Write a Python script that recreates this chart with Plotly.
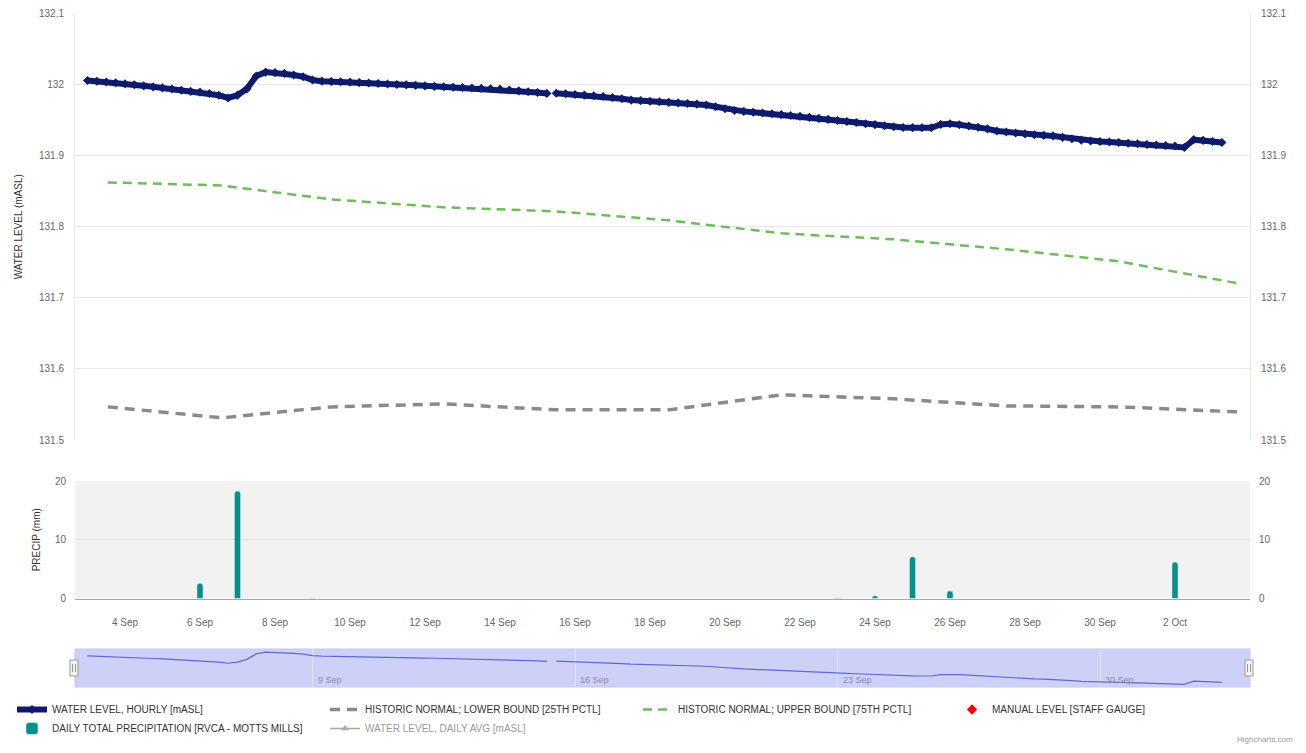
import pandas as pd
import plotly.graph_objects as go

# ---------------- DATA ----------------
# Water level, read every 6 h from the picture (starting 3 Sep 00:00)
wl_start = "2018-09-03 00:00"
wl_values = [
    132.0057, 132.0047, 132.0036, 132.0026,  # 3 Sep
    132.0010, 131.9998, 131.9982, 131.9968,  # 4 Sep
    131.9953, 131.9937, 131.9920, 131.9905,  # 5 Sep
    131.9894, 131.9875, 131.9850, 131.9812,  # 6 Sep
    131.9851, 131.9940, 132.0120, 132.0175,  # 7 Sep
    132.0168, 132.0158, 132.0135, 132.0110,  # 8 Sep
    132.0065, 132.0048, 132.0044, 132.0040,  # 9 Sep
    132.0035, 132.0028, 132.0022, 132.0016,  # 10 Sep
    132.0009, 132.0002, 131.9996, 131.9989,  # 11 Sep
    131.9982, 131.9975, 131.9969, 131.9963,  # 12 Sep
    131.9958, 131.9952, 131.9946, 131.9941,  # 13 Sep
    131.9936, 131.9924, 131.9912, 131.9900,  # 14 Sep
    131.9888, 131.9876, 131.9879, 131.9870,  # 15 Sep
    131.9860, 131.9851, 131.9842, 131.9833,  # 16 Sep
    131.9816, 131.9800, 131.9782, 131.9775,  # 17 Sep
    131.9766, 131.9758, 131.9750, 131.9742,  # 18 Sep
    131.9733, 131.9725, 131.9712, 131.9688,  # 19 Sep
    131.9661, 131.9636, 131.9623, 131.9611,  # 20 Sep
    131.9600, 131.9590, 131.9578, 131.9566,  # 21 Sep
    131.9553, 131.9539, 131.9524, 131.9510,  # 22 Sep
    131.9495, 131.9480, 131.9466, 131.9450,  # 23 Sep
    131.9436, 131.9421, 131.9407, 131.9396,  # 24 Sep
    131.9394, 131.9392, 131.9392, 131.9440,  # 25 Sep
    131.9448, 131.9434, 131.9418, 131.9400,  # 26 Sep
    131.9377, 131.9348, 131.9332, 131.9318,  # 27 Sep
    131.9306, 131.9295, 131.9286, 131.9278,  # 28 Sep
    131.9258, 131.9238, 131.9218, 131.9206,  # 29 Sep
    131.9199, 131.9192, 131.9185, 131.9175,  # 30 Sep
    131.9168, 131.9158, 131.9150, 131.9142,  # 1 Oct
    131.9135, 131.9115, 131.9225, 131.9215,  # 2 Oct
    131.9200, 131.9185,                      # 3 Oct
]
wl_gap_time = "2018-09-15 09:00"   # missing readings

hist_dates = ["2018-09-03 13:00", "2018-09-06 14:00", "2018-09-09 12:00",
              "2018-09-12 12:00", "2018-09-15 12:00", "2018-09-18 12:00",
              "2018-09-21 12:00", "2018-09-24 12:00", "2018-09-27 12:00",
              "2018-09-30 12:00", "2018-10-03 16:00"]
hist_lower = [131.5466, 131.5312, 131.5466, 131.5508, 131.5424, 131.5424,
              131.5635, 131.5579, 131.5480, 131.5466, 131.5396]
hist_upper = [131.8624, 131.8580, 131.8385, 131.8273, 131.8216, 131.8090,
              131.7907, 131.7823, 131.7683, 131.7514, 131.7205]

# series with no visible points in the reference
manual_dates = [None]
manual_levels = [None]
daily_avg_dates = [None]
daily_avg_levels = [None]

precip_dates = ["2018-09-06", "2018-09-07", "2018-09-09", "2018-09-23",
                "2018-09-24", "2018-09-25", "2018-09-26", "2018-10-02"]
precip_mm = [2.6, 18.3, 0.1, 0.1, 0.45, 7.1, 1.3, 6.2]

x_tick_dates = ["2018-09-04", "2018-09-06", "2018-09-08", "2018-09-10",
                "2018-09-12", "2018-09-14", "2018-09-16", "2018-09-18",
                "2018-09-20", "2018-09-22", "2018-09-24", "2018-09-26",
                "2018-09-28", "2018-09-30", "2018-10-02"]
nav_tick_dates = ["2018-09-09", "2018-09-16", "2018-09-23", "2018-09-30"]
nav_tick_labels = ["9 Sep", "16 Sep", "23 Sep", "30 Sep"]

x_range = ["2018-09-02 16:00", "2018-10-04 00:00"]

names = {
    "wl": "WATER LEVEL, HOURLY [mASL]",
    "low": "HISTORIC NORMAL; LOWER BOUND [25TH PCTL]",
    "up": "HISTORIC NORMAL; UPPER BOUND [75TH PCTL]",
    "man": "MANUAL LEVEL [STAFF GAUGE]",
    "pr": "DAILY TOTAL PRECIPITATION [RVCA - MOTTS MILLS]",
    "avg": "WATER LEVEL, DAILY AVG [mASL]",
}

# ---------------- BUILD ----------------
wl_times = list(pd.date_range(wl_start, periods=len(wl_values), freq="6h"))
wl_x, wl_y = [], []
gap_t = pd.Timestamp(wl_gap_time)
gap_done = False
for t, v in zip(wl_times, wl_values):
    if not gap_done and t > gap_t:
        wl_x.append(gap_t)
        wl_y.append(None)
        gap_done = True
    wl_x.append(t)
    wl_y.append(v)

# page has an 8px body margin: figure pixel = page pixel - 8
OFF = 8
W, H = 1306 - 2 * OFF, 753 - 2 * OFF
ML = 75 - OFF
MR = W - (1250 - OFF)
PW = W - ML - MR


def py(page_px):  # page pixel row -> paper y
    return 1 - (page_px - OFF) / H


def pxx(page_px):  # page pixel column -> paper x
    return (page_px - OFF - ML) / PW


FONT = "Liberation Sans, Arial, Helvetica, sans-serif"
NAVY = "#0e1a6a"
GREEN = "#6dbd5c"
GRAY = "#8a8a8a"
TEAL = "#05918a"
LAV = "#cdd1f8"

fig = go.Figure()

fig.add_trace(go.Scatter(
    x=wl_x, y=wl_y, name=names["wl"], mode="lines+markers",
    line=dict(color=NAVY, width=6), marker=dict(symbol="diamond", size=7, color=NAVY),
    connectgaps=False, xaxis="x", yaxis="y", legend="legend"))
fig.add_trace(go.Bar(
    x=precip_dates, y=precip_mm, name=names["pr"], marker=dict(color=TEAL, cornerradius=3),
    width=14e6, xaxis="x2", yaxis="y2", legend="legend"))

fig.add_trace(go.Scatter(
    x=hist_dates, y=hist_lower, name=names["low"], mode="lines",
    line=dict(color=GRAY, width=3.5, dash="10px,7px"), xaxis="x", yaxis="y",
    legend="legend2"))
fig.add_trace(go.Scatter(
    x=daily_avg_dates, y=daily_avg_levels, name=names["avg"], mode="lines+markers",
    line=dict(color="#555555", width=1.5), marker=dict(symbol="triangle-up", size=7, color="#555555"),
    visible="legendonly", xaxis="x", yaxis="y", legend="legend2"))

fig.add_trace(go.Scatter(
    x=hist_dates, y=hist_upper, name=names["up"], mode="lines",
    line=dict(color=GREEN, width=2.5, dash="9px,6px"), xaxis="x", yaxis="y",
    legend="legend3"))

fig.add_trace(go.Scatter(
    x=manual_dates, y=manual_levels, name=names["man"], mode="markers",
    marker=dict(symbol="diamond", size=8, color="#ff0000"), xaxis="x", yaxis="y",
    showlegend=True, legend="legend4"))

# navigator
fig.add_trace(go.Scatter(
    x=wl_x, y=wl_y, mode="lines", line=dict(color="#5f69d2", width=1.2),
    connectgaps=False, showlegend=False, xaxis="x3", yaxis="y3", hoverinfo="skip"))

# helpers for right-hand duplicate axes
fig.add_trace(go.Scatter(x=[None], y=[None], showlegend=False, xaxis="x", yaxis="y4"))
fig.add_trace(go.Scatter(x=[None], y=[None], showlegend=False, xaxis="x2", yaxis="y5"))

tickfont = dict(family=FONT, size=10, color="#666666")
titlefont = dict(family=FONT, size=10, color="#333333")

main_dom = [py(440), py(13.5)]
pr_dom = [py(598.5), py(481)]
nav_dom = [py(687), py(649)]

common_x = dict(range=x_range, type="date", domain=[0, 1], fixedrange=True, automargin=False)

leg_common = dict(orientation="v", yanchor="top", xanchor="left",
                  bgcolor="rgba(0,0,0,0)", font=dict(family=FONT, size=10, color="#333333"),
                  tracegroupgap=0, itemwidth=30, traceorder="normal")

LEG_Y = py(695)
fig.update_layout(
    width=W, height=H,
    margin=dict(l=ML, r=MR, t=0, b=0, autoexpand=False),
    paper_bgcolor="white", plot_bgcolor="white",
    font=dict(family=FONT),
    showlegend=True,
    barmode="overlay",
    legend=dict(x=pxx(12), y=LEG_Y, **leg_common),
    legend2=dict(x=pxx(325), y=LEG_Y, **leg_common),
    legend3=dict(x=pxx(638), y=LEG_Y, **leg_common),
    legend4=dict(x=pxx(952), y=LEG_Y, **leg_common),
    xaxis=dict(anchor="y", showticklabels=False, showgrid=False, zeroline=False, **common_x),
    xaxis2=dict(anchor="y2", showgrid=False, zeroline=False, tickvals=x_tick_dates,
                tickformat="%-d %b", tickfont=tickfont, ticks="outside", ticklen=0,
                ticklabelstandoff=14, showline=True, linecolor="#a8a8a8", linewidth=1,
                **common_x),
    xaxis3=dict(anchor="y3", showticklabels=False, showgrid=True, gridcolor="#e3e5f6",
                tickvals=nav_tick_dates, zeroline=False, **common_x),
    yaxis=dict(domain=main_dom, range=[131.5, 132.1], dtick=0.1, tick0=131.5,
               gridcolor="#e8e8e8", zeroline=False, showline=True, linecolor="#e8e8e8",
               tickfont=tickfont, ticklabelstandoff=8, automargin=False,
               title=dict(text="WATER LEVEL (mASL)", font=titlefont, standoff=14),
               fixedrange=True),
    yaxis4=dict(overlaying="y", side="right", anchor="x", range=[131.5, 132.1], dtick=0.1,
                tick0=131.5, showgrid=False, zeroline=False, showline=True,
                linecolor="#e8e8e8", tickfont=tickfont, ticklabelstandoff=8,
                automargin=False, fixedrange=True),
    yaxis2=dict(domain=pr_dom, range=[0, 20], dtick=10, gridcolor="#e2e2e2",
                zeroline=False, tickfont=tickfont, ticklabelstandoff=8, automargin=False,
                title=dict(text="PRECIP (mm)", font=titlefont, standoff=12),
                fixedrange=True),
    yaxis5=dict(overlaying="y2", side="right", anchor="x2", range=[0, 20], dtick=10,
                showgrid=False, zeroline=False, tickfont=tickfont, ticklabelstandoff=8,
                automargin=False, fixedrange=True),
    yaxis3=dict(domain=nav_dom, anchor="x3", range=[131.903, 132.028], showticklabels=False,
                showgrid=False, zeroline=False, automargin=False, fixedrange=True),
)

shapes = [
    # precipitation panel background
    dict(type="rect", xref="paper", yref="paper", x0=0, x1=1, y0=pr_dom[0], y1=pr_dom[1],
         fillcolor="#f2f2f2", line=dict(width=0), layer="below"),
    # navigator mask
    dict(type="rect", xref="paper", yref="paper", x0=0, x1=1, y0=nav_dom[0], y1=nav_dom[1],
         fillcolor=LAV, line=dict(width=1, color="#c4c8ec"), layer="below"),
]
# navigator handles
for hx in (74, 1249):
    shapes.append(dict(type="rect", xref="paper", yref="paper",
                       x0=pxx(hx - 4), x1=pxx(hx + 4), y0=py(676), y1=py(660),
                       fillcolor="#f2f2f2", line=dict(width=1, color="#999999"),
                       layer="above"))
    for dx in (-1.5, 1.5):
        shapes.append(dict(type="line", xref="paper", yref="paper",
                           x0=pxx(hx + dx), x1=pxx(hx + dx), y0=py(672), y1=py(664),
                           line=dict(width=1, color="#999999"), layer="above"))
fig.update_layout(shapes=shapes)

annotations = []
for d, lab in zip(nav_tick_dates, nav_tick_labels):
    annotations.append(dict(x=d, y=py(680), xref="x3", yref="paper", text=lab,
                            showarrow=False, xanchor="left", yanchor="middle", xshift=3,
                            font=dict(family=FONT, size=9, color="#8a8ca8")))
annotations.append(dict(x=pxx(1294), y=py(745), xref="paper", yref="paper",
                        text="Highcharts.com", showarrow=False, xanchor="right",
                        yanchor="bottom", borderpad=0,
                        font=dict(family=FONT, size=8, color="#999999")))
fig.update_layout(annotations=annotations)

fig.write_html("out.html", config={"displayModeBar": False})
